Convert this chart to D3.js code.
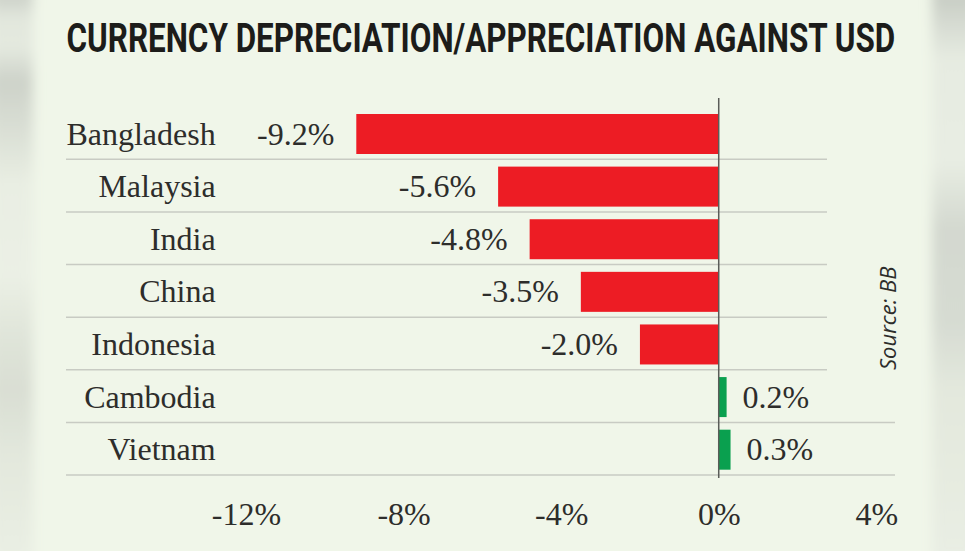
<!DOCTYPE html>
<html>
<head>
<meta charset="utf-8">
<script src="https://cdn.jsdelivr.net/npm/d3@7"></script>
<style>
  html, body { margin: 0; padding: 0; background: #f0f6e9; }
  svg { display: block; }
</style>
</head>
<body>
<svg id="chart" width="965" height="551"></svg>
<script>
// ---- data ----
const categories = ["Bangladesh", "Malaysia", "India", "China", "Indonesia", "Cambodia", "Vietnam"];
const values = [-9.2, -5.6, -4.8, -3.5, -2.0, 0.2, 0.3];
const valueLabels = ["-9.2%", "-5.6%", "-4.8%", "-3.5%", "-2.0%", "0.2%", "0.3%"];
const tickValues = [-12, -8, -4, 0, 4];
const tickLabels = ["-12%", "-8%", "-4%", "0%", "4%"];
const titleText = "CURRENCY DEPRECIATION/APPRECIATION AGAINST USD";
const sourceText = "Source: BB";

// ---- layout ----
const W = 965, H = 551;
const svg = d3.select("#chart");
const defs = svg.append("defs");

const serif = "'Liberation Serif', 'Times New Roman', serif";
const textColor = "#2d2d2b";

// page background
svg.append("rect").attr("width", W).attr("height", H).attr("fill", "#f0f6e9");

// blurred grey edges
const blur = defs.append("filter").attr("id", "blur").attr("x", "-50%").attr("y", "-10%").attr("width", "200%").attr("height", "120%");
blur.append("feGaussianBlur").attr("stdDeviation", 6);

const lg = defs.append("linearGradient").attr("id", "leftEdge").attr("x1", 0).attr("y1", 0).attr("x2", 0).attr("y2", 1);
[[0, "#c6cbc3"], [0.05, "#e2e7dd"], [0.1, "#e4e9df"], [0.16, "#cdd2c9"], [0.24, "#d9ded4"], [0.34, "#e9eee3"],
 [0.5, "#ebf0e5"], [0.6, "#e0e5da"], [0.7, "#d9ded3"], [0.82, "#e3e8dd"], [1, "#eaefe4"]]
  .forEach(([o, c]) => lg.append("stop").attr("offset", o).attr("stop-color", c));
svg.append("rect").attr("x", -10).attr("y", -10).attr("width", 43).attr("height", H + 20)
  .attr("fill", "url(#leftEdge)").attr("filter", "url(#blur)");

const rg = defs.append("linearGradient").attr("id", "rightEdge").attr("x1", 0).attr("y1", 0).attr("x2", 0).attr("y2", 1);
[[0, "#c4c9c1"], [0.06, "#d6dbd2"], [0.12, "#e6ebe1"], [0.3, "#e8ede3"], [0.42, "#d3d8cf"], [0.58, "#d6dbd2"],
 [0.7, "#e3e8dd"], [0.85, "#e6ebe0"], [1, "#e9eee4"]]
  .forEach(([o, c]) => rg.append("stop").attr("offset", o).attr("stop-color", c));
svg.append("rect").attr("x", 932).attr("y", -10).attr("width", 45).attr("height", H + 20)
  .attr("fill", "url(#rightEdge)").attr("filter", "url(#blur)");

// ---- scales ----
const x = d3.scaleLinear().domain([-12, 4]).range([246, 876.3]);
const y = d3.scaleBand().domain(categories).range([106.7, 475]).padding(0);
const barOffset = 7.3, barH = 40;

// title (condensed by horizontal scaling to the reference width)
const titleG = svg.append("g");
const title = titleG.append("text")
  .attr("x", 0).attr("y", 0)
  .style("font-family", "Roboto, 'Liberation Sans', sans-serif")
  .style("font-weight", 700).style("font-size", "41px")
  .attr("fill", "#1c1c1a")
  .text(titleText);
const natural = title.node().getComputedTextLength();
titleG.attr("transform", `translate(66.5,52.3) scale(${829 / natural},1)`);

// gridlines (bottom of each row)
svg.append("g").selectAll("line").data(categories).join("line")
  .attr("x1", 66)
  .attr("x2", (d, i) => i >= 5 ? 895 : 827)
  .attr("y1", d => y(d) + y.step())
  .attr("y2", d => y(d) + y.step())
  .attr("stroke", "#c8cbc3").attr("stroke-width", 1.5);

// bars
svg.append("g").selectAll("rect").data(categories).join("rect")
  .attr("x", (d, i) => Math.min(x(0), x(values[i])))
  .attr("width", (d, i) => Math.abs(x(values[i]) - x(0)))
  .attr("y", d => y(d) + barOffset)
  .attr("height", barH)
  .attr("fill", (d, i) => values[i] < 0 ? "#ed1c24" : "#0aa04f");

// zero line
svg.append("line")
  .attr("x1", x(0)).attr("x2", x(0))
  .attr("y1", 98).attr("y2", 478)
  .attr("stroke", "#5a5c58").attr("stroke-width", 1.5);

// category labels
svg.append("g").selectAll("text").data(categories).join("text")
  .attr("x", 215.7)
  .attr("y", d => y(d) + barOffset + barH / 2 + 10.5)
  .attr("text-anchor", "end")
  .style("font-family", serif).style("font-size", "32px")
  .attr("fill", textColor)
  .text(d => d);

// value labels
const gap = 22;
svg.append("g").selectAll("text").data(categories).join("text")
  .attr("x", (d, i) => values[i] < 0 ? x(values[i]) - gap : x(values[i]) + gap - 6)
  .attr("y", d => y(d) + barOffset + barH / 2 + 10.5)
  .attr("text-anchor", (d, i) => values[i] < 0 ? "end" : "start")
  .style("font-family", serif).style("font-size", "32px")
  .attr("fill", textColor)
  .text((d, i) => valueLabels[i]);

// x axis
const xAxis = d3.axisBottom(x)
  .tickValues(tickValues)
  .tickSize(0)
  .tickFormat((d, i) => tickLabels[i]);
const ax = svg.append("g").attr("transform", "translate(0,503)").call(xAxis);
ax.select(".domain").remove();
ax.selectAll("text")
  .attr("y", 22).attr("dy", 0)
  .style("font-family", serif).style("font-size", "32px")
  .attr("fill", textColor);

// source
svg.append("text")
  .attr("transform", "translate(896,370) rotate(-90)")
  .attr("text-anchor", "start")
  .style("font-family", "'Open Sans', sans-serif")
  .style("font-style", "italic").style("font-size", "22px")
  .attr("fill", "#2d2d2b")
  .text(sourceText);
</script>
</body>
</html>
